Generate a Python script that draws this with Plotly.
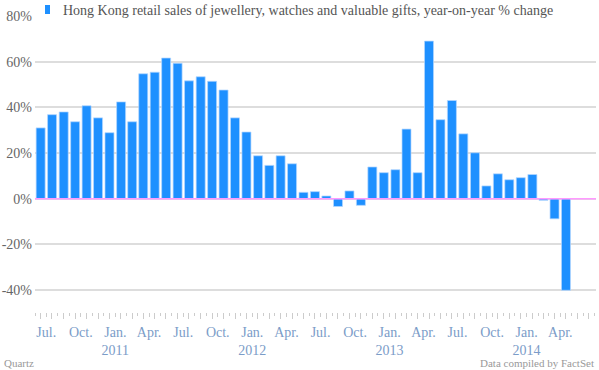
import plotly.graph_objects as go

months = [
    "2010-06", "2010-07", "2010-08", "2010-09", "2010-10", "2010-11", "2010-12",
    "2011-01", "2011-02", "2011-03", "2011-04", "2011-05", "2011-06", "2011-07",
    "2011-08", "2011-09", "2011-10", "2011-11", "2011-12",
    "2012-01", "2012-02", "2012-03", "2012-04", "2012-05", "2012-06", "2012-07",
    "2012-08", "2012-09", "2012-10", "2012-11", "2012-12",
    "2013-01", "2013-02", "2013-03", "2013-04", "2013-05", "2013-06", "2013-07",
    "2013-08", "2013-09", "2013-10", "2013-11", "2013-12",
    "2014-01", "2014-02", "2014-03", "2014-04",
]
values = [
    31.0, 36.8, 38.0, 33.7, 40.7, 35.4, 28.9,
    42.4, 33.7, 54.7, 55.4, 61.6, 59.3, 51.6,
    53.4, 51.4, 47.6, 35.4, 29.2,
    18.8, 14.6, 18.8, 15.3, 2.8, 3.1, 1.2,
    -3.4, 3.4, -2.9, 13.9, 11.4,
    12.7, 30.5, 11.4, 69.0, 34.6, 43.0, 28.4,
    20.1, 5.6, 10.9, 8.3, 9.2,
    10.6, -0.7, -8.8, -40.1,
]
tick_dates = [
    "2010-07-01", "2010-10-01", "2011-01-01", "2011-04-01", "2011-07-01",
    "2011-10-01", "2012-01-01", "2012-04-01", "2012-07-01", "2012-10-01",
    "2013-01-01", "2013-04-01", "2013-07-01", "2013-10-01", "2014-01-01",
    "2014-04-01",
]
tick_labels = [
    "Jul.", "Oct.", "Jan.<br>2011", "Apr.", "Jul.", "Oct.", "Jan.<br>2012", "Apr.",
    "Jul.", "Oct.", "Jan.<br>2013", "Apr.", "Jul.", "Oct.", "Jan.<br>2014", "Apr.",
]
y_ticks = [-40, -20, 0, 20, 40, 60, 80]
y_labels = ["-40%", "-20%", "0%", "20%", "40%", "60%", "80%"]
series_name = "Hong Kong retail sales of jewellery, watches and valuable gifts, year-on-year % change"

x_dates = [m + "-01" for m in months]
mid_dates = [m + "-16" for m in months] + ["2014-05-16", "2014-06-16"]

FONT = "Liberation Serif"
BLUE = "#1e90ff"
x_range = ["2010-06-01", "2014-07-05"]

L, R, T, B = 35, 3, 16, 58
PW, PH = 599 - L - R, 370 - T - B

fig = go.Figure()
fig.add_trace(go.Bar(
    x=x_dates, y=values, name=series_name,
    xperiod="M1", xperiodalignment="middle",
    marker=dict(color=BLUE, line=dict(color="rgba(180,215,255,0.9)", width=0.8)),
    width=[0.8 * 30 * 24 * 3600 * 1000] * len(values),
    showlegend=False,
))
fig.add_trace(go.Scatter(x=[x_range[0]], y=[None], xaxis="x2", showlegend=False, hoverinfo="skip"))

fig.update_layout(
    width=599, height=370,
    margin=dict(l=L, r=R, t=T, b=B, autoexpand=False),
    paper_bgcolor="white", plot_bgcolor="white",
    font=dict(family=FONT, color="#666666", size=13),
    bargap=0.2,
    xaxis=dict(
        type="date", range=x_range, automargin=False,
        tickvals=tick_dates, ticktext=tick_labels,
        ticks="outside", ticklen=4, tickcolor="#cccccc", tickwidth=1,
        minor=dict(dtick="M1", ticks="outside", ticklen=3, tickcolor="#cccccc", showgrid=False),
        tickfont=dict(family=FONT, size=14, color="#7b9cc8"),
        ticklabelstandoff=3,
        showgrid=False, zeroline=False, showline=False,
    ),
    xaxis2=dict(
        type="date", range=x_range, overlaying="x", side="bottom", automargin=False,
        tickvals=mid_dates, showticklabels=False,
        ticks="outside", ticklen=6, tickcolor="#cccccc", tickwidth=1,
        showgrid=False, zeroline=False, showline=False,
    ),
    yaxis=dict(
        range=[-49.6, 80], tickvals=y_ticks, ticktext=y_labels, automargin=False,
        showgrid=True, gridcolor="#dddddd", gridwidth=1.5,
        zeroline=False,
        tickfont=dict(family=FONT, size=14, color="#666666"),
        ticks="", ticklabelstandoff=2,
    ),
)

# zero line drawn above the bars
fig.add_shape(type="line", xref="paper", yref="y", x0=0, x1=1, y0=0, y1=0,
              line=dict(color="#ff99ff", width=1.5), layer="above")

# legend-like header
fig.add_shape(type="rect", xref="paper", yref="paper",
              x0=(45 - L) / PW, x1=(50 - L) / PW,
              y0=(370 - B - 14) / PH, y1=(370 - B - 5) / PH,
              fillcolor=BLUE, line=dict(width=0))
fig.add_annotation(text=series_name, xref="paper", yref="paper",
                   x=(61 - L) / PW, y=(370 - B - 1) / PH, xanchor="left", yanchor="top",
                   showarrow=False, font=dict(family=FONT, size=14, color="#555555"),
                   bgcolor="white", borderpad=1)
fig.add_annotation(text="Quartz", xref="paper", yref="paper",
                   x=-(L - 2) / PW, y=-43 / PH, xanchor="left", yanchor="top",
                   showarrow=False, font=dict(family=FONT, size=11, color="#999999"))
fig.add_annotation(text="Data compiled by FactSet", xref="paper", yref="paper",
                   x=1.0, y=-43 / PH, xanchor="right", yanchor="top",
                   showarrow=False, font=dict(family=FONT, size=11, color="#999999"))

fig.write_html(
    "out.html",
    config={"displayModeBar": False},
    post_script="document.body.style.margin='0';document.body.style.overflow='hidden';",
)
